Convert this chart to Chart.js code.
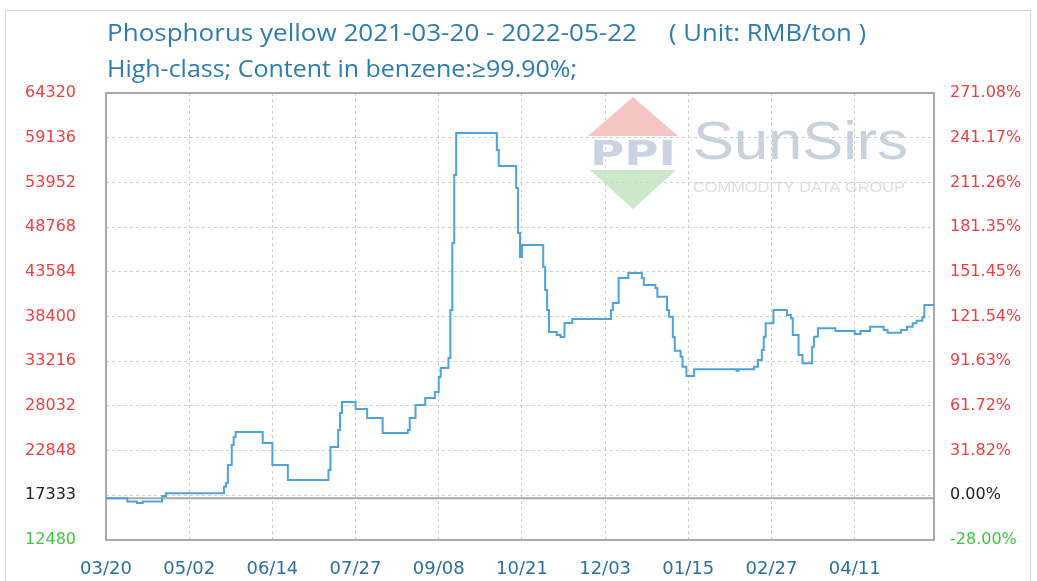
<!DOCTYPE html>
<html>
<head>
<meta charset="utf-8">
<script src="https://cdn.jsdelivr.net/npm/chart.js@4.4.0/dist/chart.umd.min.js"></script>
<style>
body { margin: 0; background: #fff; }
#wrap { position: relative; width: 1037px; height: 581px; }
</style>
</head>
<body>
<div id="wrap"><canvas id="priceChart"></canvas></div>
<script>
// chart text
const titleText = 'Phosphorus yellow 2021-03-20 - 2022-05-22';
const unitText = '( Unit: RMB/ton )';
const subText = 'High-class; Content in benzene:\u226599.90%;';

// axis labels
const dateLabels = ['03/20', '05/02', '06/14', '07/27', '09/08', '10/21', '12/03', '01/15', '02/27', '04/11'];
const leftLabels = ['12480', '17333', '22848', '28032', '33216', '38400', '43584', '48768', '53952', '59136', '64320'];
const rightLabels = ['-28.00%', '0.00%', '31.82%', '61.72%', '91.63%', '121.54%', '151.45%', '181.35%', '211.26%', '241.17%', '271.08%'];

const basePrice = 17333;
const totalDays = 428;

// price changes: day offset from 2021-03-20 and the price from that day on
const days = [0, 11, 16, 19, 29, 31, 61, 62, 63, 65, 66, 67, 81, 86, 94, 115, 116, 120, 121, 122, 129, 135, 143,
  156, 157, 160, 165, 170, 172, 173, 177, 178, 179, 180, 181, 202, 203, 212, 213, 214, 215, 226, 227, 228, 229,
  233, 235, 237, 241, 261, 262, 265, 270, 277, 278, 284, 285, 290, 291, 293, 294, 297, 298, 300, 304, 326, 327,
  335, 337, 339, 340, 341, 345, 352, 354, 355, 358, 360, 365, 366, 368, 377, 387, 390, 395, 402, 404, 411, 414,
  417, 419, 422, 423, 428];
const prices = [17333, 16950, 16780, 16950, 17580, 17900, 18650, 19090, 21180, 23500, 24430, 25010, 23730, 21180, 19440, 20600, 23270, 25240, 27210, 28490, 27680, 26630, 24890,
  25240, 26630, 28140, 28950, 29650, 31390, 32430, 33590, 39150, 46930, 54810, 59680, 57710, 55850, 53300, 48080, 45300, 46690, 44140, 41470, 39150, 36600,
  36250, 36020, 37650, 38110, 39150, 39970, 42870, 43450, 42870, 42060, 41710, 40700, 39150, 38380, 36020, 34435, 33740, 32580, 31500, 32280, 32120, 32280,
  32580, 33360, 34520, 36060, 37610, 39150, 38570, 38190, 36250, 33940, 32980, 34900, 36060, 37030, 36720, 36370, 36720, 37220, 36840, 36520, 36840, 37220,
  37610, 37910, 38310, 39730, 39730];

const red = '#f43c3c';
const green = '#3cc83c';
const blue = '#2c7cb0';
const tickFont = { family: "'DejaVu Sans'", size: 16 };

function tickColor(ctx) {
  if (ctx.index === 0) return green;
  if (ctx.index === 1) return '#222';
  return red;
}

// text squeezed/stretched to the width it has in the picture
function fitText(c, text, x, y, width) {
  const w = c.measureText(text).width;
  c.save();
  c.translate(x, y);
  c.scale(width / w, 1);
  c.fillText(text, 0, 0);
  c.restore();
}

const decor = {
  id: 'decor',
  beforeDraw(chart) {
    const c = chart.ctx;
    c.save();
    c.fillStyle = '#fff';
    c.fillRect(0, 0, chart.width, chart.height);
    c.strokeStyle = '#d4d4d4';
    c.lineWidth = 1;
    c.strokeRect(5.5, 10.5, 1025, 620);

    // title
    c.fillStyle = blue;
    c.textBaseline = 'middle';
    c.font = "23px 'Open Sans'";
    fitText(c, titleText, 107, 34, 530);
    fitText(c, unitText, 669, 34, 197);
    fitText(c, subText, 107, 70, 470);

    // watermark
    c.fillStyle = '#f7c4c4';
    c.beginPath(); c.moveTo(633, 97); c.lineTo(678, 136); c.lineTo(588, 136); c.closePath(); c.fill();
    c.fillStyle = '#cbe8cb';
    c.beginPath(); c.moveTo(590, 170); c.lineTo(676, 170); c.lineTo(633, 209); c.closePath(); c.fill();
    c.textBaseline = 'alphabetic';
    c.fillStyle = '#c9d3e3';
    c.font = "bold 34px 'DejaVu Sans'";
    fitText(c, 'PPI', 590, 165, 86);
    c.fillStyle = '#c8d1dc';
    c.font = "54px 'Liberation Sans'";
    fitText(c, 'SunSirs', 693, 159, 215);
    c.fillStyle = '#dedede';
    c.font = "14px 'Liberation Sans'";
    fitText(c, 'COMMODITY DATA GROUP', 693, 192, 212);
    c.restore();
  },
  beforeDatasetsDraw(chart) {
    const a = chart.chartArea;
    const c = chart.ctx;
    c.save();
    c.strokeStyle = '#a9a9a9';
    c.lineWidth = 2;
    c.strokeRect(a.left, a.top, a.right - a.left, a.bottom - a.top);
    c.restore();
  }
};

new Chart(document.getElementById('priceChart'), {
  type: 'line',
  data: {
    datasets: [{
      data: days.map((d, i) => ({ x: d, y: prices[i] })),
      borderColor: '#4ea3dc',
      borderWidth: 2,
      pointRadius: 0,
      stepped: 'before',
      order: 1
    }, {
      data: [{ x: 0, y: basePrice }, { x: totalDays, y: basePrice }],
      borderColor: '#a9a9a9',
      borderWidth: 2,
      pointRadius: 0,
      order: 2
    }]
  },
  options: {
    responsive: true,
    maintainAspectRatio: false,
    animation: false,
    layout: { padding: { top: 93, left: 0, right: 0, bottom: 0 } },
    plugins: { legend: { display: false }, tooltip: { enabled: false } },
    scales: {
      x: {
        type: 'linear',
        min: 0,
        max: totalDays,
        afterFit: s => { s.height = 41; },
        border: { display: false, dash: [3, 3] },
        grid: { color: '#cfcfcf', drawTicks: false },
        ticks: {
          stepSize: 43,
          includeBounds: false,
          padding: 19,
          maxRotation: 0,
          autoSkip: false,
          color: '#2a70a0',
          font: { family: "'DejaVu Sans'", size: 18 },
          callback: v => dateLabels[Math.round(v / 43)]
        }
      },
      y: {
        position: 'left',
        min: 12480,
        max: 64320,
        afterFit: s => { s.width = 106; },
        border: { display: false, dash: [3, 3] },
        grid: { color: '#cfcfcf', drawTicks: false },
        ticks: {
          stepSize: 5184,
          padding: 30,
          color: tickColor,
          font: tickFont,
          callback: (v, i) => leftLabels[i]
        }
      },
      y2: {
        position: 'right',
        min: 12480,
        max: 64320,
        afterFit: s => { s.width = 103; },
        border: { display: false },
        grid: { display: false },
        ticks: {
          stepSize: 5184,
          padding: 8,
          color: tickColor,
          font: tickFont,
          callback: (v, i) => rightLabels[i]
        }
      }
    }
  },
  plugins: [decor]
});
</script>
</body>
</html>
